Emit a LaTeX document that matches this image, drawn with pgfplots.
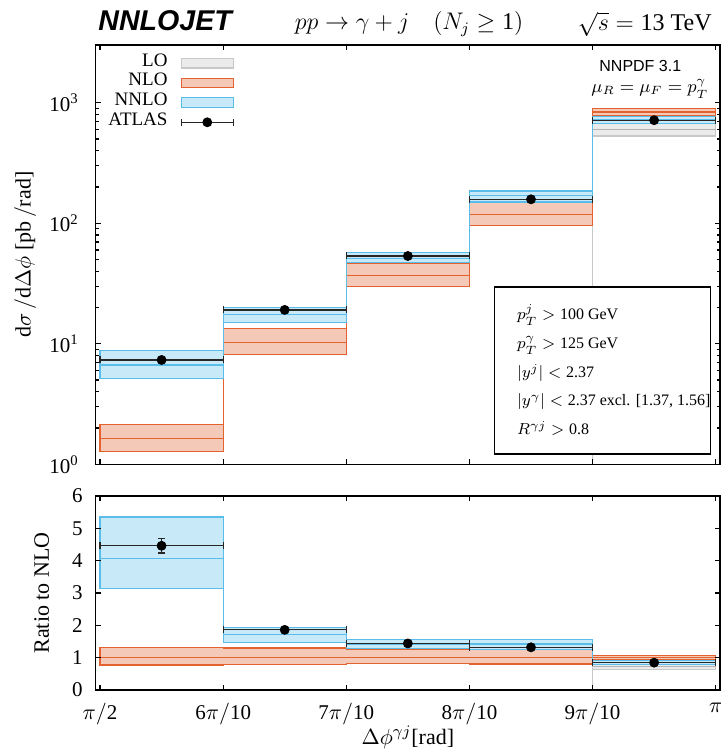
\documentclass[border=0pt]{standalone}
\usepackage{fontspec}
\setmainfont{Liberation Serif}
\newfontfamily\helv{Liberation Sans}
\usepackage{pgfplots}
\pgfplotsset{compat=1.18}
\newcommand\n[1]{\mbox{#1}}
\definecolor{LOfill}{RGB}{235,235,235}
\definecolor{LOedge}{RGB}{200,200,200}
\definecolor{NLOfill}{RGB}{244,201,184}
\definecolor{NLOedge}{RGB}{226,98,48}
\definecolor{NNLOfill}{RGB}{200,233,248}
\definecolor{NNLOedge}{RGB}{90,188,232}
\pgfplotsset{
  common/.style={
    scale only axis, width=312.15pt, xmin=4.965, xmax=10.035,
    xtick={5,6,7,8,9,10}, tick align=inside,
    major tick length=2.5pt, minor tick length=1.5pt,
    axis line style={line width=0.7pt},
    every tick/.style={black, line width=0.6pt},
    tick label style={font=\fontsize{10.5}{12}\selectfont},
    label style={font=\fontsize{11}{13}\selectfont},
    axis on top,
  },
  band/.style={line width=0.6pt, forget plot},
  cline/.style={const plot, line width=0.6pt, forget plot},
  data/.style={only marks, mark=*, mark size=2.25pt, black, forget plot,
    error bars/.cd, x dir=both, x explicit, y dir=both, y explicit,
    error bar style={line width=0.6pt, black!85},
    error mark options={rotate=90, mark size=1.75pt, line width=0.6pt, black!85}},
}
\begin{document}
\begin{tikzpicture}
\begin{axis}[common, at={(47.85pt,143.35pt)}, anchor=south west, height=209.65pt,
  ymode=log, ymin=1, ymax=3013, ytick={1,10,100,1000}, xticklabels={},
  yticklabels={10\textsuperscript{0},10\textsuperscript{1},10\textsuperscript{2},10\textsuperscript{3}},
  yticklabel style={xshift=-5pt},
  ylabel={$\mathrm{d}\sigma\,/\mathrm{d}\Delta\phi$ [pb$\,/$rad]},
  ylabel style={at={(axis description cs:-0.1132,0.5)}, anchor=center},
  legend style={draw=none, fill=none, at={(axis description cs:0.222,0.981)}, anchor=north east,
    font=\fontsize{9.5}{11}\selectfont, inner sep=0pt, row sep=0pt,
    nodes={inner sep=0pt, text height=6.4pt, text depth=3.45pt},
    /tikz/every odd column/.style={column sep=6.6pt}},
  legend cell align=right, legend plot pos=right,
]
\addlegendimage{legend image code/.code={\draw[fill=LOfill, draw=LOedge, line width=0.6pt] (0pt,-2.4pt) rectangle (26pt,2.4pt);}}
\addlegendentry{LO}
\addlegendimage{legend image code/.code={\draw[fill=NLOfill, draw=NLOedge, line width=0.6pt] (0pt,-2.4pt) rectangle (26pt,2.4pt);}}
\addlegendentry{NLO}
\addlegendimage{legend image code/.code={\draw[fill=NNLOfill, draw=NNLOedge, line width=0.6pt] (0pt,-2.4pt) rectangle (26pt,2.4pt);}}
\addlegendentry{NNLO}
\addlegendimage{legend image code/.code={\draw[black!85, line width=0.6pt] (0pt,0pt) -- (26pt,0pt) (0pt,-1.75pt) -- (0pt,1.75pt) (26pt,-1.75pt) -- (26pt,1.75pt); \fill[black] (13pt,0pt) circle (2.25pt);}}
\addlegendentry{ATLAS}
% LO
\addplot[band, fill=LOfill, draw=LOedge] coordinates {(9,0.1)(9,671)(10,671)(10,530)(9,530)} -- cycle;
\addplot[cline, LOedge!90!black] coordinates {(9,603)(10,603)};
% NLO
\addplot[band, fill=NLOfill, draw=NLOedge] coordinates {(5,2.15)(6,2.15)(6,13.4)(7,13.4)(7,46.6)(8,46.6)(8,149)(9,149)(9,900)(10,900)(10,782)(9,782)(9,96)(8,96)(8,29.8)(7,29.8)(7,8.18)(6,8.18)(6,1.27)(5,1.27)} -- cycle;
\addplot[cline, NLOedge] coordinates {(5,1.64)(6,10.3)(7,36.7)(8,119)(9,839)(10,839)};
% NNLO
\addplot[band, fill=NNLOfill, draw=NNLOedge] coordinates {(5,8.77)(6,8.77)(6,19.9)(7,19.9)(7,57.0)(8,57.0)(8,185)(9,185)(9,767)(10,767)(10,671)(9,671)(9,150)(8,150)(8,47.1)(7,47.1)(7,15.1)(6,15.1)(6,5.13)(5,5.13)} -- cycle;
\addplot[cline, NNLOedge] coordinates {(5,6.67)(6,17.6)(7,51.3)(8,169)(9,720)(10,720)};
% ATLAS
\addplot[data] coordinates {
(5.5,7.34) +- (0.5,0.36)
(6.5,19.1) +- (0.5,0.6)
(7.5,53.5) +- (0.5,1.5)
(8.5,158) +- (0.5,4)
(9.5,716) +- (0.5,16)
};
\end{axis}
\begin{axis}[common, at={(47.85pt,30.5pt)}, anchor=south west, height=97pt,
  ymin=0, ymax=6, ytick={0,1,2,3,4,5,6}, yticklabels={0,1,2,3,4,5,6},
  yticklabel style={xshift=-3pt},
  xticklabels={$\pi/$2,6$\pi/$10,7$\pi/$10,8$\pi/$10,9$\pi/$10,$\pi$},
  xticklabel style={yshift=-3pt},
  ylabel={Ratio to NLO},
  ylabel style={at={(axis description cs:-0.0865,0.5)}, anchor=center},
  xlabel={$\Delta\phi^{\gamma j}$[rad]},
  xlabel style={at={(axis description cs:0.5,-0.245)}, anchor=center},
]
\addplot[band, fill=LOfill, draw=LOedge] coordinates {(9,0)(9,0.800)(10,0.800)(10,0.632)(9,0.632)} -- cycle;
\addplot[cline, LOedge!90!black] coordinates {(9,0.719)(10,0.719)};
\addplot[band, fill=NLOfill, draw=NLOedge] coordinates {(5,1.311)(6,1.311)(6,1.301)(7,1.301)(7,1.270)(8,1.270)(8,1.252)(9,1.252)(9,1.073)(10,1.073)(10,0.932)(9,0.932)(9,0.807)(8,0.807)(8,0.812)(7,0.812)(7,0.794)(6,0.794)(6,0.774)(5,0.774)} -- cycle;
\addplot[cline, NLOedge] coordinates {(5,1)(6,1)(7,1)(8,1)(9,1)(10,1)};
\addplot[band, fill=NNLOfill, draw=NNLOedge] coordinates {(5,5.35)(6,5.35)(6,1.932)(7,1.932)(7,1.553)(8,1.553)(8,1.555)(9,1.555)(9,0.914)(10,0.914)(10,0.800)(9,0.800)(9,1.261)(8,1.261)(8,1.283)(7,1.283)(7,1.466)(6,1.466)(6,3.13)(5,3.13)} -- cycle;
\addplot[cline, NNLOedge] coordinates {(5,4.07)(6,1.709)(7,1.398)(8,1.420)(9,0.858)(10,0.858)};
\addplot[data] coordinates {
(5.5,4.46) +- (0.5,0.22)
(6.5,1.86) +- (0.5,0.06)
(7.5,1.44) +- (0.5,0.04)
(8.5,1.32) +- (0.5,0.035)
(9.5,0.845) +- (0.5,0.02)
};
\end{axis}
% titles
\node[anchor=base west, font=\helv\bfseries\itshape\fontsize{14.3}{16}\selectfont, inner sep=0pt] at (49pt,360pt) {NNLOJET};
\node[anchor=base, font=\fontsize{12}{14}\selectfont, inner sep=0pt] at (204.5pt,360.5pt) {$pp\to\gamma+j\quad(N_j\geq\n{1})$};
\node[anchor=base east, font=\fontsize{12}{14}\selectfont, inner sep=0pt] at (356pt,360pt) {$\sqrt{s}=\n{13}$ TeV};
\node[anchor=base west, font=\helv\fontsize{8}{10}\selectfont, inner sep=0pt] at (299.5pt,339.5pt) {NNPDF 3.1};
\node[anchor=base west, font=\fontsize{9}{11}\selectfont, inner sep=0pt] at (295.5pt,329pt) {$\mu_R=\mu_F=p_T^\gamma$};
% cuts box
\draw[fill=white, line width=0.65pt] (247.3pt,148.5pt) rectangle (355.3pt,232pt);
\begin{scope}[every node/.style={anchor=base west, inner sep=0pt, font=\fontsize{8}{10}\selectfont}]
\node at (258.35pt,215.5pt) {$p_T^j>\n{100}$ GeV};
\node at (258.35pt,201pt) {$p_T^\gamma>\n{125}$ GeV};
\node at (258.35pt,186.65pt) {$|y^j|<\n{2.37}$};
\node at (258.35pt,172.5pt) {$|y^\gamma|<\n{2.37}$ excl. [1.37, 1.56]};
\node at (258.35pt,158pt) {$R^{\gamma j}>\n{0.8}$};
\end{scope}
\pgfresetboundingbox
\path (0pt,0pt) rectangle (360.5pt,375.5pt);
\end{tikzpicture}
\end{document}
